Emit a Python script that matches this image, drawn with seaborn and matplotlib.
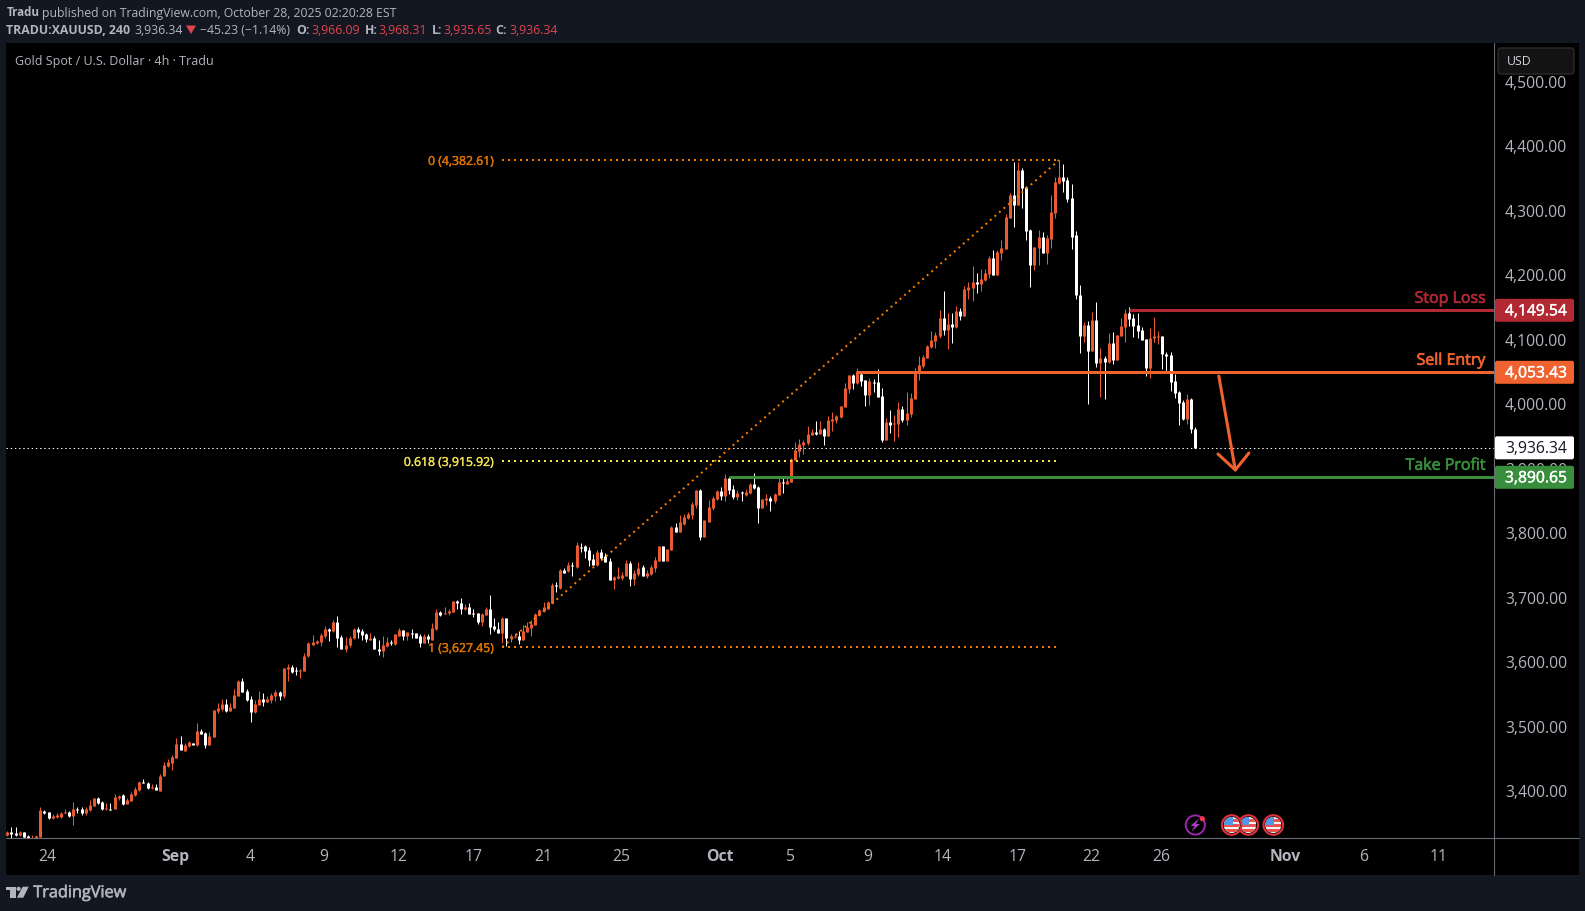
import matplotlib
matplotlib.use("Agg")
import matplotlib.pyplot as plt
import matplotlib.patheffects as pe
from matplotlib.patches import Rectangle, Circle, FancyBboxPatch, Polygon
from matplotlib.transforms import ScaledTranslation
import numpy as np
import pandas as pd
import seaborn as sns

opens = [3336,3341,3339,3336,3340,3335,3331,3331,3333,3374,
3372,3362,3364,3364,3370,3372,3365,3376,3376,3370,
3375,3381,3394,3387,3376,3377,3376,3393,3398,3384,
3389,3398,3406,3418,3417,3409,3410,3405,3427,3443,
3448,3455,3477,3467,3474,3478,3475,3497,3494,3475,
3488,3528,3531,3539,3528,3533,3552,3575,3560,3547,
3526,3538,3547,3542,3545,3552,3557,3552,3594,3597,
3592,3590,3590,3613,3631,3633,3635,3644,3655,3652,
3666,3643,3624,3630,3642,3655,3653,3647,3639,3642,
3625,3621,3629,3636,3632,3645,3654,3645,3650,3649,
3644,3634,3645,3639,3655,3682,3679,3680,3682,3699,
3696,3686,3690,3680,3680,3666,3677,3686,3660,3656,
3650,3672,3641,3643,3645,3638,3651,3657,3662,3677,
3683,3687,3695,3724,3719,3747,3745,3755,3751,3783,
3784,3778,3764,3755,3775,3769,3761,3731,3735,3735,
3738,3758,3733,3741,3752,3738,3741,3750,3761,3784,
3761,3778,3814,3806,3819,3827,3832,3848,3871,3798,
3822,3843,3857,3869,3862,3890,3873,3860,3868,3863,
3866,3880,3876,3843,3856,3859,3854,3863,3884,3880,
3883,3917,3931,3941,3944,3956,3961,3958,3965,3955,
3978,3979,3984,4000,4027,4049,4037,4051,4041,4018,
4039,4038,4017,3948,3976,3973,3973,3996,3979,3989,
4012,4054,4063,4076,4093,4102,4110,4138,4119,4128,
4124,4148,4141,4181,4184,4193,4190,4197,4206,4231,
4204,4238,4245,4293,4328,4313,4367,4341,4274,4220,
4246,4263,4238,4260,4300,4347,4356,4352,4324,4266,
4173,4110,4127,4086,4134,4068,4075,4069,4099,4072,
4110,4124,4145,4138,4127,4119,4105,4060,4107,4108,
4110,4082,4080,4040,4023,4007,3981,4012,3966.09]

highs = [3343,3348,3348,3342,3341,3336,3336,3336,3379,3375,
3372,3368,3370,3372,3376,3374,3387,3380,3380,3380,
3390,3393,3395,3388,3385,3386,3400,3398,3400,3394,
3403,3411,3420,3423,3418,3415,3415,3430,3450,3454,
3460,3486,3489,3479,3482,3479,3510,3501,3496,3495,
3530,3541,3547,3547,3541,3562,3577,3579,3563,3551,
3545,3559,3556,3551,3556,3561,3560,3595,3601,3599,
3597,3594,3618,3636,3646,3639,3649,3660,3657,3669,
3676,3646,3643,3645,3657,3658,3656,3650,3649,3645,
3638,3645,3643,3639,3647,3657,3654,3651,3655,3650,
3647,3647,3647,3665,3686,3683,3689,3686,3699,3700,
3703,3694,3696,3686,3681,3681,3690,3708,3672,3666,
3674,3672,3648,3650,3652,3661,3666,3669,3680,3686,
3697,3699,3726,3728,3748,3750,3759,3759,3791,3789,
3786,3783,3772,3778,3779,3773,3765,3738,3752,3744,
3762,3761,3747,3759,3755,3747,3755,3767,3784,3784,
3779,3815,3820,3832,3834,3837,3852,3871,3873,3824,
3855,3862,3871,3876,3896,3891,3879,3871,3869,3873,
3882,3897,3877,3857,3865,3862,3866,3891,3893,3890,
3921,3945,3950,3948,3970,3965,3978,3978,3967,3986,
3992,3987,4001,4037,4049,4051,4060,4055,4041,4045,
4043,4058,4029,3982,3995,3987,4007,4001,4023,4021,
4060,4079,4080,4096,4117,4116,4150,4179,4145,4145,
4156,4153,4187,4193,4218,4207,4214,4214,4234,4243,
4243,4259,4299,4331,4380,4380,4370,4342,4276,4248,
4274,4271,4266,4328,4356,4383,4376,4356,4345,4273,
4189,4131,4133,4147,4162,4091,4079,4114,4116,4111,
4138,4152,4155,4144,4145,4124,4105,4122,4139,4117,
4110,4085,4085,4051,4024,4010,4020,4013,3968.31]

lows = [3334,3331,3335,3335,3332,3331,3331,3331,3333,3368,
3361,3361,3363,3363,3370,3364,3352,3370,3367,3367,
3374,3381,3384,3375,3375,3375,3376,3391,3383,3384,
3388,3397,3405,3417,3408,3407,3406,3404,3427,3442,
3437,3455,3468,3466,3473,3477,3474,3492,3471,3475,
3488,3525,3528,3527,3528,3533,3552,3557,3544,3511,
3525,3538,3536,3542,3541,3544,3545,3548,3575,3587,
3584,3579,3590,3612,3630,3632,3629,3642,3637,3651,
3628,3624,3620,3628,3640,3641,3638,3636,3638,3624,
3615,3612,3627,3631,3631,3645,3638,3638,3642,3641,
3628,3633,3634,3638,3654,3676,3678,3677,3682,3686,
3679,3685,3678,3674,3663,3660,3677,3647,3653,3649,
3633,3629,3636,3641,3632,3638,3651,3644,3661,3676,
3682,3687,3695,3713,3717,3742,3744,3738,3750,3775,
3765,3753,3755,3753,3762,3759,3731,3717,3733,3731,
3738,3722,3724,3738,3737,3734,3739,3744,3761,3761,
3761,3778,3806,3806,3817,3826,3826,3843,3793,3798,
3821,3840,3855,3855,3854,3865,3857,3855,3854,3862,
3865,3873,3820,3843,3848,3838,3851,3863,3866,3880,
3883,3917,3922,3927,3940,3956,3956,3958,3940,3955,
3962,3975,3982,4000,4021,4027,4035,4032,4001,4003,
4023,4015,3945,3948,3959,3947,3953,3976,3972,3984,
4012,4041,4060,4076,4091,4091,4106,4111,4089,4099,
4122,4134,4141,4167,4164,4176,4179,4195,4200,4204,
4204,4228,4245,4293,4279,4313,4308,4259,4186,4212,
4220,4238,4221,4246,4293,4345,4333,4317,4245,4167,
4083,4100,4004,4086,4062,4015,4012,4068,4066,4072,
4110,4100,4125,4108,4107,4103,4048,4045,4100,4097,
4058,4054,4024,4013,3972,3979,3973,3959,3935.65]

closes = [3341,3338,3336,3340,3333,3332,3332,3334,3375,3370,
3362,3366,3367,3370,3372,3365,3377,3375,3370,3376,
3383,3393,3385,3376,3378,3375,3395,3397,3384,3391,
3400,3407,3418,3416,3409,3411,3406,3428,3444,3449,
3457,3477,3468,3476,3480,3476,3497,3493,3475,3490,
3530,3533,3539,3528,3534,3553,3575,3558,3545,3527,
3539,3547,3542,3547,3553,3558,3552,3595,3597,3588,
3590,3592,3613,3634,3635,3637,3646,3655,3653,3666,
3642,3625,3631,3642,3655,3651,3646,3640,3642,3625,
3622,3630,3636,3634,3647,3654,3644,3651,3648,3642,
3634,3645,3640,3657,3682,3677,3681,3684,3699,3695,
3686,3690,3679,3678,3666,3679,3686,3658,3655,3650,
3673,3641,3645,3645,3638,3653,3658,3663,3679,3685,
3690,3697,3724,3722,3747,3743,3755,3753,3786,3781,
3776,3762,3755,3775,3766,3760,3731,3736,3737,3739,
3758,3733,3742,3750,3738,3742,3752,3762,3784,3761,
3779,3814,3806,3821,3829,3834,3849,3871,3798,3824,
3845,3858,3869,3862,3890,3871,3860,3866,3866,3868,
3880,3874,3843,3857,3859,3854,3865,3883,3882,3885,
3919,3933,3942,3945,3958,3961,3958,3965,3955,3979,
3981,3986,4001,4029,4049,4037,4055,4040,4018,4040,
4037,4015,3948,3976,3972,3975,3996,3979,3990,4013,
4054,4065,4077,4094,4103,4111,4138,4119,4128,4124,
4148,4141,4183,4186,4193,4191,4198,4207,4231,4204,
4240,4246,4294,4328,4313,4367,4339,4273,4220,4248,
4263,4238,4262,4302,4349,4356,4350,4322,4263,4173,
4110,4127,4086,4134,4068,4076,4069,4099,4072,4111,
4125,4145,4136,4125,4117,4103,4060,4107,4109,4110,
4082,4079,4038,4021,4006,3981,4012,3965,3936.34]

price_ticks = [3400,3500,3600,3700,3800,3900,4000,4100,4200,4300,4400,4500]
date_bars = [9.8,40.8,58.8,76.8,94.9,113,130,148.8,172.7,189.9,208.7,226.8,245,262.7,279.8,309.9,328.8,347]
date_labels = ["24","Sep","4","9","12","17","21","25","Oct","5","9","14","17","22","26","Nov","6","11"]
bold_dates = {"Sep","Oct","Nov"}

fib_levels = [4382.61, 3915.92, 3627.45]
fib_texts = ["0 (4,382.61)", "0.618 (3,915.92)", "1 (3,627.45)"]
fib_colors = ["#f57c00", "#f5e642", "#f57c00"]
fib_text_colors = ["#dc7200", "#f0e050", "#dc7200"]
fib_start, fib_end = 120, 255

trade_levels = [4149.54, 4053.43, 3890.65]
trade_names = ["Stop Loss", "Sell Entry", "Take Profit"]
trade_tags = ["4,149.54", "4,053.43", "3,890.65"]
trade_colors = ["#b22833", "#f0622f", "#388e3c"]
trade_starts = [272, 206, 175]
last_price = 3936.34
arrow_bars = [293.7, 297.7]
arrow_prices = [4047.7, 3902]
arrow_head_bars = [293.5, 297.7, 301.0]
arrow_head_prices = [3926.8, 3902, 3928.4]

W, H = 1585, 911
BAR0, BARW = 7.3, 4.125
PANE_L, PANE_R, PANE_T, PANE_B = 6, 1494.3, 43, 838
YTOP, YBOT = 4564.0, 3331.4
BG = "#131722"
GREY = "#b2b5be"
UP = "#e95a30"
DOWN = "#ffffff"

sns.set_theme(style="dark", rc={"axes.facecolor": "black", "figure.facecolor": BG,
                                "axes.grid": False})
plt.rcParams["font.family"] = ["Open Sans", "DejaVu Sans"]

fig = plt.figure(figsize=(W / 100, H / 100), dpi=100)
fig.patches.append(Rectangle((6 / W, 1 - 875 / H), (1579 - 6) / W, (875 - 43) / H,
                             transform=fig.transFigure, facecolor="black", edgecolor="none", zorder=-5))
ax = fig.add_axes([PANE_L / W, 1 - PANE_B / H, (PANE_R - PANE_L) / W, (PANE_B - PANE_T) / H])
ax.set_facecolor("black")

bars = np.arange(len(opens))
o, h, l, c = map(np.array, (opens, highs, lows, closes))
direction = np.where(c >= o, "up", "down")
wicks = pd.DataFrame({"bar": np.r_[bars, bars], "price": np.r_[l, h], "dir": np.r_[direction, direction]})
bodies = pd.DataFrame({"bar": np.r_[bars, bars], "price": np.r_[o, c], "dir": np.r_[direction, direction]})
pal = {"up": UP, "down": DOWN}
sns.lineplot(data=wicks, x="bar", y="price", units="bar", hue="dir", palette=pal, estimator=None,
             legend=False, ax=ax, linewidth=0.72, solid_capstyle="butt", sort=False)
sns.lineplot(data=bodies, x="bar", y="price", units="bar", hue="dir", palette=pal, estimator=None,
             legend=False, ax=ax, linewidth=2.16, solid_capstyle="butt", sort=False)

ax.set_xlim((PANE_L - BAR0) / BARW, (PANE_R - BAR0) / BARW)
ax.set_ylim(YBOT, YTOP)
ax.set_xlabel("")
ax.set_ylabel("")
for s in ax.spines.values():
    s.set_visible(False)

ax.yaxis.tick_right()
ax.set_yticks(price_ticks)
ax.set_yticklabels([f"{v:,.2f}" for v in price_ticks])
ax.tick_params(axis="y", length=0, pad=7.7, labelsize=11.3, labelcolor=GREY)
ax.set_xticks(date_bars)
ax.set_xticklabels(date_labels)
ax.tick_params(axis="x", length=0, pad=7.9, labelsize=11.3, labelcolor=GREY)
for t in ax.get_xticklabels():
    if t.get_text() in bold_dates:
        t.set_fontweight("bold")
up_shift = ScaledTranslation(0, 2.6 / 100, fig.dpi_scale_trans)
for tick in ax.yaxis.get_major_ticks():
    tick.label2.set_transform(tick.label2.get_transform() + up_shift)

# Fibonacci drawing
dots = (0, (1, 2))
ax.plot([fib_start, fib_end], [fib_levels[2], fib_levels[0]], color=fib_colors[0], lw=1.44, ls=dots, zorder=6)
for lev, txt, col, tcol in zip(fib_levels, fib_texts, fib_colors, fib_text_colors):
    ax.plot([fib_start, fib_end], [lev, lev], color=col, lw=1.44, ls=dots, zorder=6)
    t = ax.annotate(txt, (fib_start, lev), xytext=(-6, -1), textcoords="offset points", ha="right",
                    va="center", color=tcol, fontsize=8.8, zorder=7)
    t.set_path_effects([pe.withStroke(linewidth=0.3, foreground=tcol)])

# Last price line
ax.axhline(last_price, color="white", lw=0.72, ls=(0, (1.4, 2.8)), zorder=5)

# Trade levels
for lev, name, col, st in zip(trade_levels, trade_names, trade_colors, trade_starts):
    ax.plot([st, ax.get_xlim()[1]], [lev, lev], color=col, lw=2.16, zorder=6, solid_capstyle="butt")
    t = ax.annotate(name, (1, lev), xycoords=("axes fraction", "data"), xytext=(-6.2, 8.3),
                    textcoords="offset points", ha="right", va="center", color=col, fontsize=11.5,
                    zorder=7)
    t.set_path_effects([pe.withStroke(linewidth=0.45, foreground=col)])

# Arrow
ax.plot(arrow_bars, arrow_prices, color=trade_colors[1], lw=2.2, zorder=6, solid_capstyle="round")
ax.plot(arrow_head_bars, arrow_head_prices, color=trade_colors[1], lw=2.2, zorder=6, solid_capstyle="round")

# Overlay in pixel coordinates for the chart chrome
ov = fig.add_axes([0, 0, 1, 1], zorder=5)
ov.set_xlim(0, W)
ov.set_ylim(H, 0)
ov.axis("off")
ov.patch.set_alpha(0)


def py(price):
    return PANE_T + (YTOP - price) / (YTOP - YBOT) * (PANE_B - PANE_T)


ov.plot([6, 1578.5], [838.3, 838.3], color="#6a6d78", lw=0.8)
ov.plot([1494.3, 1494.3], [43, 875], color="#6a6d78", lw=0.8)

# Price tags
def tag(price, text, face, fc):
    y = py(price)
    ov.add_patch(FancyBboxPatch((1495, y - 11.5), 79, 23, boxstyle="round,pad=0,rounding_size=2",
                                facecolor=face, edgecolor="none", zorder=3))
    t = ov.text(1536, y + 1, text, ha="center", va="center", color=fc, fontsize=11.3, zorder=4)
    return t


tag(last_price, f"{last_price:,.2f}", "white", "#131722")
for lev, lab, col in zip(trade_levels, trade_tags, trade_colors):
    tl = tag(lev, lab, col, "white")
    tl.set_path_effects([pe.withStroke(linewidth=0.3, foreground="white")])

# USD button
ov.add_patch(FancyBboxPatch((1498, 48), 76, 26, boxstyle="round,pad=0,rounding_size=3",
                            facecolor="#131313", edgecolor="#2a2a2a", lw=1, zorder=3))
ov.text(1506.5, 61.5, "USD", ha="left", va="center", color="#d1d4dc", fontsize=8.8, zorder=4)

# Header
HC = "#b2b5be"
RED = "#e0444e"
HF = 8.8
Y1, Y2 = 13, 30.5
ov.text(6.5, Y1, "Tradu", fontweight="bold", color=HC, fontsize=8.4, va="center")
ov.text(42.5, Y1, "published on TradingView.com, October 28, 2025 02:20:28 EST", color=HC, fontsize=HF, va="center")
ov.text(6.5, Y2, "TRADU:XAUUSD, 240", fontweight="bold", color=HC, fontsize=HF, va="center")
ov.text(134.5, Y2, "3,936.34", color=HC, fontsize=HF, va="center")
ov.add_patch(Polygon([[186, 25.5], [196, 25.5], [191, 34]], facecolor="#e0444e", edgecolor="none"))
ov.text(200.5, Y2, "\u221245.23 (\u22121.14%)", color=HC, fontsize=HF, va="center")
for lx, lab, vx, val in [(296.5, "O:", 311, "3,966.09"), (364.5, "H:", 378, "3,968.31"),
                         (431.5, "L:", 443, "3,935.65"), (495, "C:", 509, "3,936.34")]:
    ov.text(lx, Y2, lab, fontweight="bold", color=HC, fontsize=HF, va="center")
    ov.text(vx, Y2, val, color=RED, fontsize=HF, va="center")
ov.text(15, 61.5, "Gold Spot / U.S. Dollar \u00b7 4h \u00b7 Tradu", color=HC, fontsize=9.0, va="center")

# Logo
ov.add_patch(Polygon([[6, 886.7], [16, 886.7], [16, 897.7], [10, 897.7], [10, 890.2], [6, 890.2]],
                     facecolor=HC, edgecolor="none"))
ov.add_patch(Circle((18.6, 888.8), 2.1, facecolor=HC, edgecolor="none"))
ov.add_patch(Polygon([[22.7, 886.7], [28.7, 886.7], [23.3, 897.7], [16.9, 897.7]], facecolor=HC, edgecolor="none"))
lt = ov.text(33.3, 893.2, "TradingView", color=HC, fontsize=11.7, va="center")
lt.set_path_effects([pe.withStroke(linewidth=0.4, foreground=HC)])

# Event icons
ov.add_patch(Circle((1195.3, 825), 9.6, facecolor="black", edgecolor="#9c27b0", lw=1.4, zorder=3))
ov.add_patch(Polygon([[1199, 818.5], [1190.5, 826], [1194.5, 826], [1191.5, 831.5], [1200, 824], [1196, 824]],
                     facecolor="#a93ec2", edgecolor="none", zorder=4))
ov.add_patch(Circle((1202.3, 818.7), 2.6, facecolor="#f23645", edgecolor="none", zorder=4))


def flag(x, z):
    ring = Circle((x, 825), 9.8, facecolor="#111111", edgecolor="#e0303a", lw=1.5, zorder=z)
    ov.add_patch(ring)
    disc = Circle((x, 825), 8, transform=ov.transData)
    white = ov.add_patch(Rectangle((x - 8, 817), 16, 16, facecolor="#f4f4f4", edgecolor="none", zorder=z + .1))
    white.set_clip_path(disc)
    for yy in (819, 824, 829):
        r = ov.add_patch(Rectangle((x - 8, yy), 16, 2.6, facecolor="#ef5350", edgecolor="none", zorder=z + .2))
        r.set_clip_path(disc)
    b = ov.add_patch(Rectangle((x - 8, 817), 9, 8, facecolor="#4f97e8", edgecolor="none", zorder=z + .3))
    b.set_clip_path(disc)


flag(1273.3, 3)
flag(1248.3, 4)
flag(1231.7, 5)

fig.savefig("out.png", dpi=100, facecolor=fig.get_facecolor())
